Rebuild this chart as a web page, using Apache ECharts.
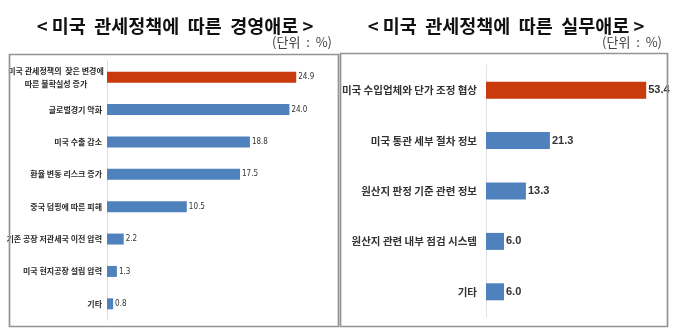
<!DOCTYPE html>
<html><head><meta charset="utf-8">
<script src="https://cdn.jsdelivr.net/npm/echarts@6/dist/echarts.min.js"></script>
<style>html,body{margin:0;padding:0;background:#fff}#c{width:680px;height:335px}</style>
</head><body><div id="c"></div>
<script>
const leftTitle = '< 미국  관세정책에  따른  경영애로 >';
const rightTitle = '< 미국  관세정책에  따른  실무애로 >';
const unitText = '(단위  :  %)';
const leftCategories = ['미국 관세정책의  잦은 변경에\n따른 불확실성 증가', '글로벌경기 악화', '미국 수출 감소', '환율 변동 리스크 증가', '중국 덤핑에 따른 피해', '기존 공장 저관세국 이전 압력', '미국 현지공장 설립 압력', '기타'];
const leftValues = [24.9, 24.0, 18.8, 17.5, 10.5, 2.2, 1.3, 0.8];
const rightCategories = ['미국 수입업체와 단가 조정 협상', '미국 통관 세부 절차 정보', '원산지 판정 기준 관련 정보', '원산지 관련 내부 점검 시스템', '기타'];
const rightValues = [53.4, 21.3, 13.3, 6.0, 6.0];

const RED = '#C93A0C', BLUE = '#4F81BD';
const KR = '"Noto Sans CJK KR", "Noto Sans", sans-serif';
const chart = echarts.init(document.getElementById('c'));
function colored(vals){return vals.map((v,i)=>({value:v,itemStyle:{color:i===0?RED:BLUE}}));}
chart.setOption({
  animation:false,
  title:[
    {text:leftTitle,left:170,top:12,textAlign:'center',textStyle:{fontFamily:KR,fontSize:18.5,fontWeight:'bold',color:'#111'}},
    {text:rightTitle,left:501,top:12,textAlign:'center',textStyle:{fontFamily:KR,fontSize:18.5,fontWeight:'bold',color:'#111'}}
  ],
  graphic:[
    {type:'text',right:680-332,top:36,style:{text:unitText,font:'13px '+KR,fill:'#444'}},
    {type:'text',right:680-662,top:36,style:{text:unitText,font:'13px '+KR,fill:'#444'}},
    {type:'rect',shape:{x:9.5,y:54.5,width:329,height:272},style:{fill:'none',stroke:'#949494',lineWidth:1.7},z:10},
    {type:'rect',shape:{x:340.5,y:53.5,width:327,height:273},style:{fill:'none',stroke:'#949494',lineWidth:1.7},z:10}
  ],
  grid:[
    {left:107,width:228,top:61,height:259},
    {left:486,width:180,top:65,height:252}
  ],
  xAxis:[
    {gridIndex:0,type:'value',min:0,max:30,show:false},
    {gridIndex:1,type:'value',min:0,max:60,show:false}
  ],
  yAxis:[
    {gridIndex:0,type:'category',inverse:true,
     data:leftCategories.map((c,i)=>i===0?{value:c,textStyle:{align:'center',padding:[0,92,0,0]}}:c),
     axisLine:{lineStyle:{color:'#dcdcdc'}},axisTick:{show:false},
     axisLabel:{margin:5,fontFamily:KR,fontSize:8,fontWeight:'bold',color:'#2a2a2a',lineHeight:13}},
    {gridIndex:1,type:'category',inverse:true,data:rightCategories,
     axisLine:{lineStyle:{color:'#e2e2e2'}},axisTick:{show:false},
     axisLabel:{margin:9,fontFamily:KR,fontSize:10.5,fontWeight:'bold',color:'#333'}}
  ],
  series:[
    {type:'bar',xAxisIndex:0,yAxisIndex:0,data:colored(leftValues),barWidth:11,
     label:{show:true,position:'right',distance:2,formatter:p=>p.value.toFixed(1),fontFamily:'"Liberation Sans Narrow", "DejaVu Sans Condensed", sans-serif',fontSize:8,color:'#333'}},
    {type:'bar',xAxisIndex:1,yAxisIndex:1,data:colored(rightValues),barWidth:17,
     label:{show:true,position:'right',distance:2,formatter:p=>p.value.toFixed(1),fontFamily:'"Liberation Sans", Arial, sans-serif',fontSize:11,fontWeight:'bold',color:'#333'}}
  ]
});
</script></body></html>
